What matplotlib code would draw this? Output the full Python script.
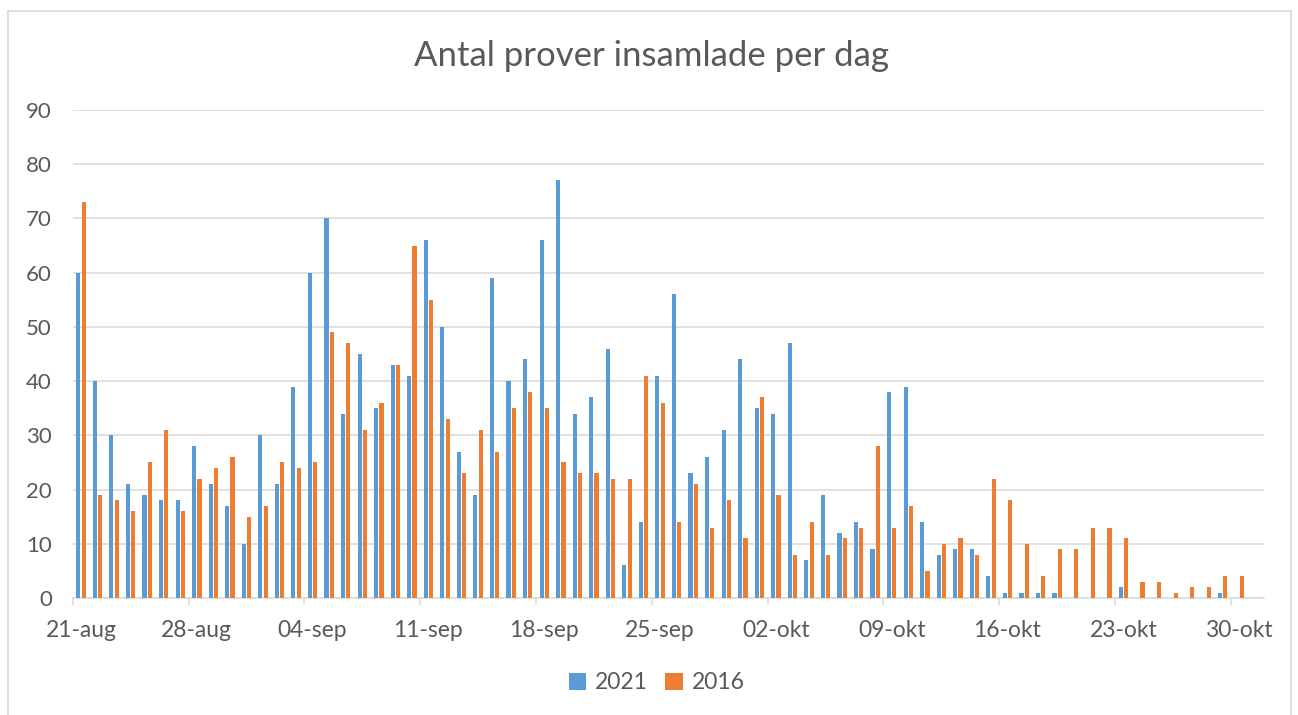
import matplotlib.pyplot as plt
import numpy as np
from matplotlib.patches import Rectangle

# antal prover per dag, 21-aug .. 30-okt
prover_2021 = [
    60, 40, 30, 21, 19, 18, 18, 28, 21, 17, 10, 30, 21, 39, 60, 70,
    34, 45, 35, 43, 41, 66, 50, 27, 19, 59, 40, 44, 66, 77, 34, 37,
    46, 6, 14, 41, 56, 23, 26, 31, 44, 35, 34, 47, 7, 19, 12, 14,
    9, 38, 39, 14, 8, 9, 9, 4, 1, 1, 1, 1, 0, 0, 0, 2,
    0, 0, 0, 0, 0, 1, 0,
]
prover_2016 = [
    73, 19, 18, 16, 25, 31, 16, 22, 24, 26, 15, 17, 25, 24, 25, 49,
    47, 31, 36, 43, 65, 55, 33, 23, 31, 27, 35, 38, 35, 25, 23, 23,
    22, 22, 41, 36, 14, 21, 13, 18, 11, 37, 19, 8, 14, 8, 11, 13,
    28, 13, 17, 5, 10, 11, 8, 22, 18, 10, 4, 9, 9, 13, 13, 11,
    3, 3, 1, 2, 2, 4, 4,
]
datum_etiketter = ["21-aug", "28-aug", "04-sep", "11-sep", "18-sep", "25-sep",
                   "02-okt", "09-okt", "16-okt", "23-okt", "30-okt"]

BLA = "#5B9BD5"
ORANGE = "#ED7D31"
GRID = "#D9D9D9"
TEXT = "#595959"

plt.rcParams["font.family"] = ["Lato", "DejaVu Sans"]

fig = plt.figure(figsize=(12.98, 7.15), dpi=100)
ax = fig.add_axes([72.7 / 1298, 1 - 598 / 715, (1264 - 72.7) / 1298, (598 - 110) / 715])

x = np.arange(len(prover_2021))
w = 0.25
ax.bar(x - 0.16, prover_2021, w, color=BLA, label="2021", zorder=3)
ax.bar(x + 0.16, prover_2016, w, color=ORANGE, label="2016", zorder=3)

ax.set_xlim(-0.5, len(x) + 0.5)
ax.set_ylim(0, 90)
ax.set_yticks(range(0, 91, 10))
ax.grid(axis="y", color=GRID, linewidth=1.1, zorder=0)

# etiketter mitt på dagen, streck mellan dagarna
ax.set_xticks(np.arange(0, len(x), 7))
ax.set_xticklabels(datum_etiketter)
ax.set_xticks(np.arange(0, len(x), 7) - 0.5, minor=True)
ax.tick_params(axis="x", which="major", length=0, pad=16, labelsize=16.5, labelcolor=TEXT)
ax.tick_params(axis="x", which="minor", length=5, width=1.1, color=GRID)
ax.tick_params(axis="y", length=0, pad=15, labelsize=16, labelcolor=TEXT)

for s in ["top", "right", "left"]:
    ax.spines[s].set_visible(False)
ax.spines["bottom"].set_color(GRID)
ax.spines["bottom"].set_linewidth(1.1)

fig.text(0.502, 0.921, "Antal prover insamlade per dag", ha="center", va="center",
         fontsize=25, color=TEXT)

fig.legend(loc="center", bbox_to_anchor=(0.506, 0.045), ncol=2, frameon=False,
           fontsize=16.5, labelcolor=TEXT, handlelength=0.75, handleheight=0.75,
           handletextpad=0.4, columnspacing=0.75)

fig.patches.append(Rectangle((8 / 1298, -0.01), (1291 - 8) / 1298, 1 - 11 / 715 + 0.01,
                             transform=fig.transFigure, fill=False,
                             edgecolor=GRID, linewidth=1.2))

fig.savefig("out.png", dpi=100, facecolor="white")
